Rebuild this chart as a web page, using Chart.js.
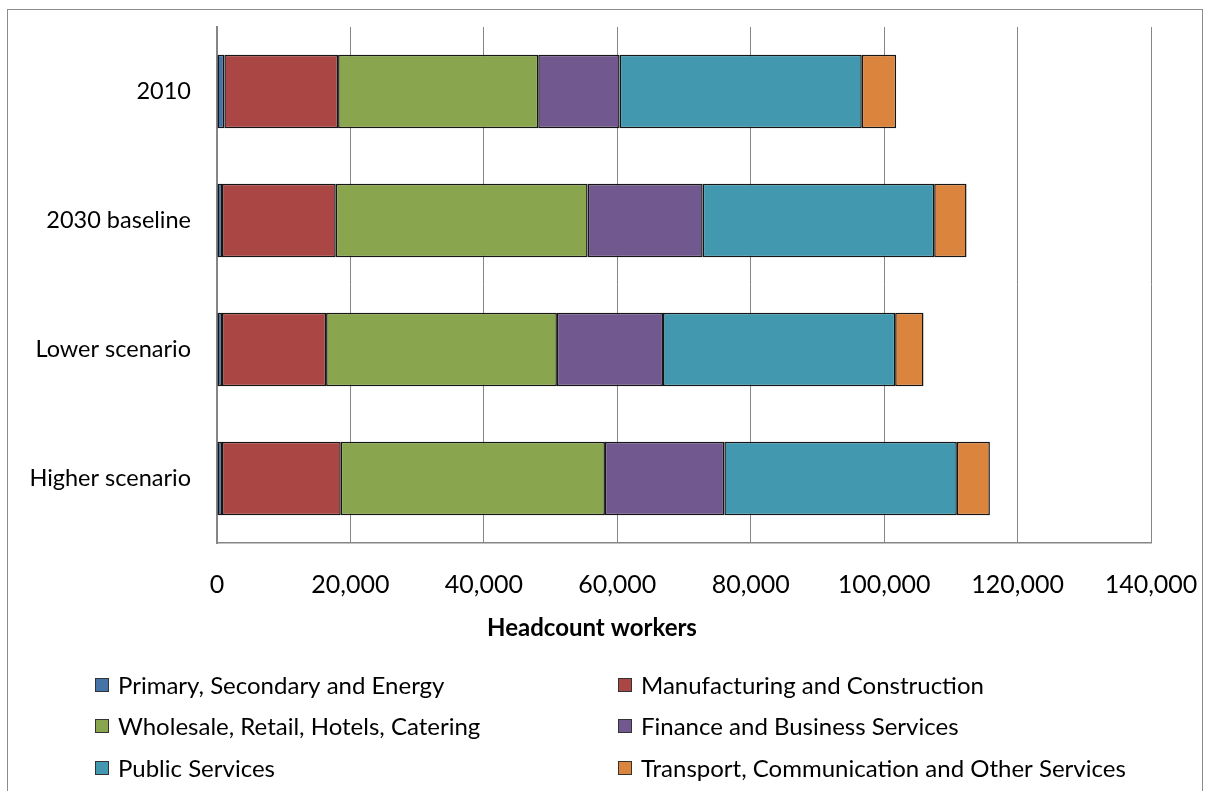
<!DOCTYPE html>
<html>
<head>
<meta charset="utf-8">
<script src="https://cdn.jsdelivr.net/npm/chart.js@4/dist/chart.umd.min.js"></script>
<style>
  html, body { margin: 0; padding: 0; background: #ffffff; }
  #frame { position: absolute; left: 7px; top: 9px; width: 1196px; height: 800px; border: 1.5px solid #8c8c8c; box-sizing: border-box; }
  #wrap { position: absolute; left: 0; top: 0; width: 1211px; height: 791px; }
</style>
</head>
<body>
<div id="frame"></div>
<div id="wrap"><canvas id="c" width="1211" height="791"></canvas></div>
<script>
const categories = ['2010', '2030 baseline', 'Lower scenario', 'Higher scenario'];
const seriesNames = [
  'Primary, Secondary and Energy',
  'Manufacturing and Construction',
  'Wholesale, Retail, Hotels, Catering',
  'Finance and Business Services',
  'Public Services',
  'Transport, Communication and Other Services'
];
const primarySecondaryEnergy = [1100, 750, 750, 750];
const manufacturingConstruction = [17050, 17050, 15600, 17800];
const wholesaleRetailHotels = [30000, 37750, 34600, 39600];
const financeBusiness = [12200, 17250, 15900, 17900];
const publicServices = [36300, 34700, 34800, 34850];
const transportCommunication = [5150, 4850, 4250, 4950];
const xTickValues = [0, 20000, 40000, 60000, 80000, 100000, 120000, 140000];
const xAxisTitle = 'Headcount workers';

const colors = ['#4572A7', '#AA4643', '#89A54E', '#71588F', '#4198AF', '#DB843D'];
const seriesData = [primarySecondaryEnergy, manufacturingConstruction, wholesaleRetailHotels,
                    financeBusiness, publicServices, transportCommunication];

const FONT = 'Lato, "Open Sans", sans-serif';

const legendPlugin = {
  id: 'gridLegend',
  afterDraw(chart) {
    const ctx = chart.ctx;
    ctx.save();
    // axis title
    ctx.font = 'bold 24px ' + FONT;
    ctx.textAlign = 'center';
    ctx.textBaseline = 'middle';
    ctx.fillStyle = '#000';
    ctx.fillText(xAxisTitle, 592, 628);
    // legend
    const colX = [95, 618];
    const rowY = [685, 726, 768];
    ctx.font = '24px ' + FONT;
    ctx.textAlign = 'left';
    chart.data.datasets.forEach((ds, i) => {
      const x = colX[i % 2];
      const y = rowY[Math.floor(i / 2)];
      ctx.fillStyle = ds.backgroundColor;
      ctx.fillRect(x, y - 7, 14, 14);
      ctx.strokeStyle = '#333';
      ctx.lineWidth = 1;
      ctx.strokeRect(x + 0.5, y - 6.5, 13, 13);
      ctx.fillStyle = '#000';
      ctx.fillText(ds.label, x + 23, y + 1);
    });
    ctx.restore();
  }
};

new Chart(document.getElementById('c'), {
  type: 'bar',
  data: {
    labels: categories,
    datasets: seriesNames.map((name, i) => ({
      label: name,
      data: seriesData[i],
      backgroundColor: colors[i],
      borderColor: '#151515',
      borderWidth: 1.5,
      borderSkipped: false,
      categoryPercentage: 1.0,
      barPercentage: 0.57
    }))
  },
  options: {
    indexAxis: 'y',
    responsive: false,
    animation: false,
    layout: { padding: { left: 0, right: 60, top: 27, bottom: 188 } },
    plugins: {
      legend: { display: false },
      tooltip: { enabled: false },
      title: { display: false }
    },
    scales: {
      x: {
        stacked: true,
        min: 0,
        max: 140000,
        afterBuildTicks(scale) { scale.ticks = xTickValues.map(v => ({ value: v })); },
        afterFit(scale) { scale.height = 60; scale.paddingLeft = 0; scale.paddingRight = 0; },
        ticks: {
          color: '#000',
          font: { family: FONT, size: 25 },
          padding: 27,
          maxRotation: 0,
          callback: (v) => Number(v).toLocaleString('en-US')
        },
        grid: { color: '#868686', lineWidth: 1, drawTicks: false },
        border: { display: true, color: '#868686', width: 1.5 }
      },
      y: {
        stacked: true,
        afterFit(scale) { scale.width = 217; scale.paddingTop = 0; scale.paddingBottom = 0; },
        ticks: {
          color: '#000',
          font: { family: FONT, size: 23.5 },
          padding: 26
        },
        grid: { display: false, drawTicks: false },
        border: { display: true, color: '#868686', width: 2 }
      }
    }
  },
  plugins: [legendPlugin]
});
</script>
</body>
</html>
